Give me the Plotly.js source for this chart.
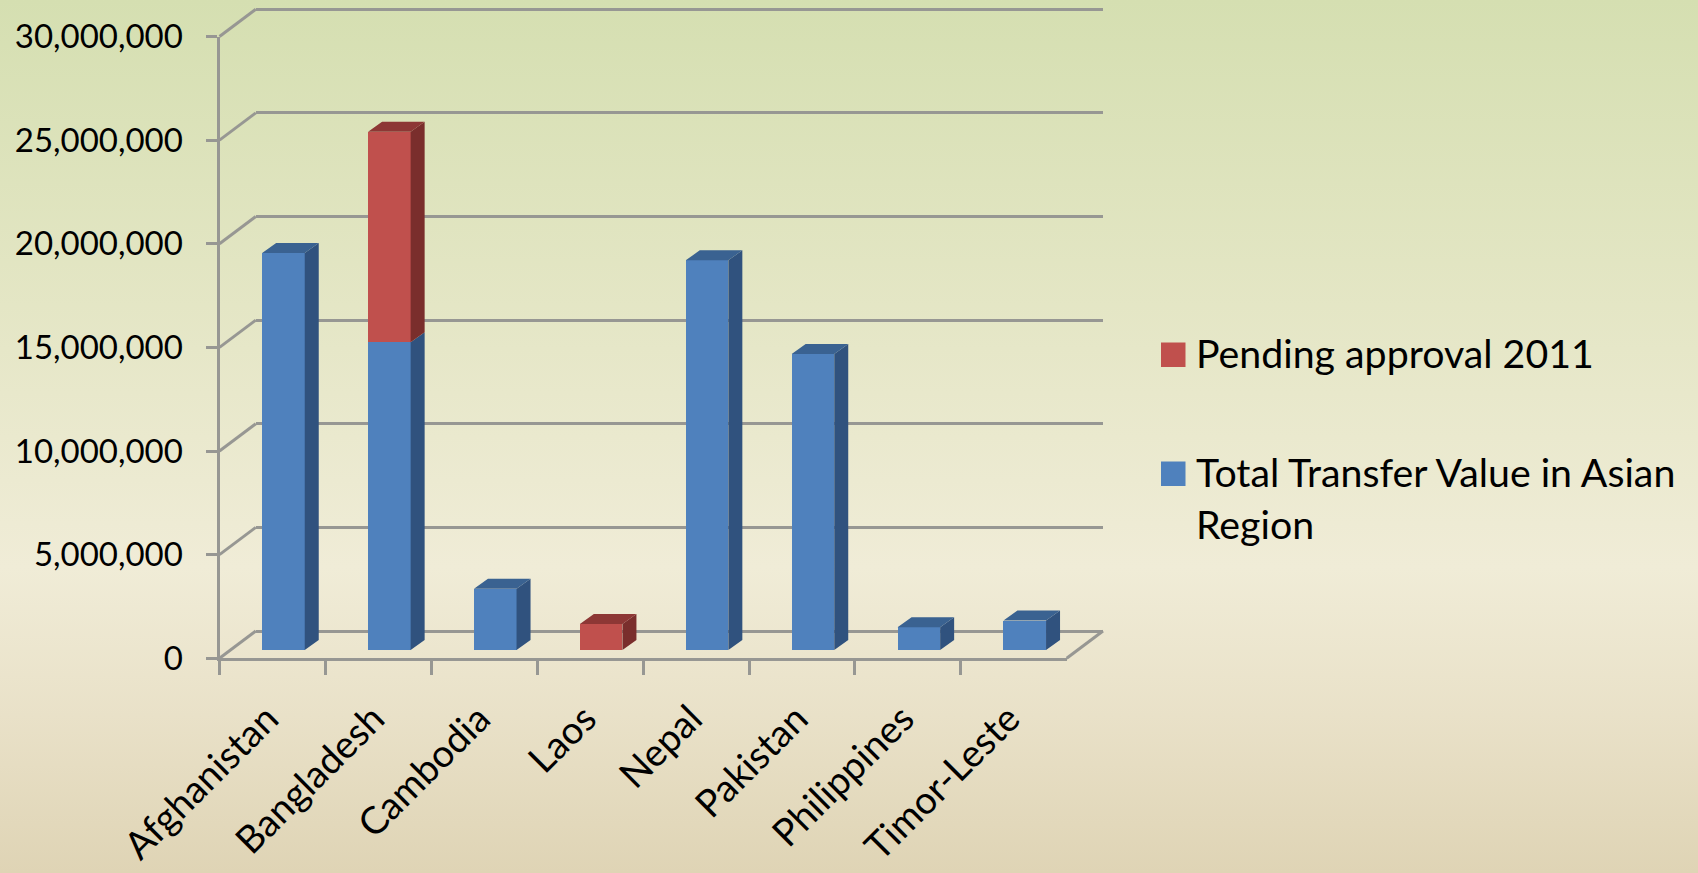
<!DOCTYPE html>
<html>
<head>
<meta charset="utf-8">
<script src="https://cdn.plot.ly/plotly-3.0.1.min.js"></script>
<style>
html,body{margin:0;padding:0;width:1698px;height:873px;overflow:hidden;
background:linear-gradient(180deg,#d5dfb1 0%,#e4e6c5 35%,#f0ecd7 65%,#e9e1c8 82%,#dfd4b5 100%);}
#chart{width:1698px;height:873px;}
</style>
</head>
<body>
<div id="chart"></div>
<script>
const categories = ["Afghanistan","Bangladesh","Cambodia","Laos","Nepal","Pakistan","Philippines","Timor-Leste"];
const totalTransfer = [19150000,14850000,2950000,0,18800000,14280000,1100000,1420000];
const pendingApproval = [0,10150000,0,1250000,0,0,0,0];
const totalName = "Total Transfer Value in Asian Region";
const pendingName = "Pending approval 2011";
const yTickVals = [0,5000000,10000000,15000000,20000000,25000000,30000000];
const yTickText = ["0","5,000,000","10,000,000","15,000,000","20,000,000","25,000,000","30,000,000"];

const W=1698,H=873,FONT="Lato, 'Open Sans', sans-serif",FS=33,FSX=38,FSL=39.3;
const GRID="#979793",LW=3;
const px=v=>v/W, py=v=>1-v/H;
// frame of the front axes
const L=219.5,R=1066.7,T=36.5,B=658.3;
const backDx=36.3,backDy=27.3, barDx=11,barDy=8.3;
const YMAX=30000000, barW=0.402;
const catPx=(R-L)/8, valPerPx=YMAX/(B-T);
const depthX=14/catPx, depthY=10*valPerPx;
// small headroom so that the top gridline of the back wall is kept
const HEAD=0.01;

const xs=categories.map((_,i)=>i);
function faces(seriesBase,seriesVal,onlyTopmost,other){
  const side={x:[],y:[]},top={x:[],y:[]};
  xs.forEach(i=>{
    const v=seriesVal[i]; if(!v) return;
    const b=seriesBase[i], t=b+v, xr=i+barW/2, xl=i-barW/2;
    side.x.push(xr,xr,xr+depthX,xr+depthX,null);
    side.y.push(b,t,t+depthY,b+depthY,null);
    if(!onlyTopmost||!other[i]){
      top.x.push(xl,xr,xr+depthX,xl+depthX,null);
      top.y.push(t,t,t+depthY,t+depthY,null);
    }
  });
  return {side,top};
}
const zeros=xs.map(()=>0);
const fb=faces(zeros,totalTransfer,true,pendingApproval);
const fr=faces(totalTransfer,pendingApproval,false,zeros);
const poly=(d,c)=>({type:'scatter',mode:'none',x:d.x,y:d.y,xaxis:'x3',yaxis:'y3',fill:'toself',fillcolor:c,hoverinfo:'skip',showlegend:false});

const traces=[
  {type:'scatter',mode:'none',x:[0],y:[0],xaxis:'x',yaxis:'y',hoverinfo:'skip',showlegend:false},
  {type:'scatter',mode:'none',x:categories,y:zeros,xaxis:'x2',yaxis:'y2',hoverinfo:'skip',showlegend:false},
  {type:'bar',name:totalName,x:xs,y:totalTransfer,width:barW,xaxis:'x3',yaxis:'y3',marker:{color:'#4f81bd',line:{width:0}}},
  {type:'bar',name:pendingName,x:xs,y:pendingApproval,width:barW,xaxis:'x3',yaxis:'y3',marker:{color:'#c0504d',line:{width:0}}},
  poly(fb.side,'#30527e'),poly(fb.top,'#3a6291'),
  poly(fr.side,'#7a2e2c'),poly(fr.top,'#8d3735')
];

const shapes=[];
yTickVals.forEach(v=>{
  const y=B-(B-T)*v/YMAX;
  shapes.push({type:'line',layer:'below',xref:'paper',yref:'paper',x0:px(L),y0:py(y),x1:px(L+backDx),y1:py(y-backDy),line:{color:GRID,width:LW}});
});
shapes.push({type:'line',layer:'below',xref:'paper',yref:'paper',x0:px(R),y0:py(B),x1:px(R+backDx),y1:py(B-backDy),line:{color:GRID,width:LW}});
const sw=(y0,y1,c)=>({type:'rect',xref:'paper',yref:'paper',x0:px(1161),x1:px(1185.5),y0:py(y0),y1:py(y1),fillcolor:c,line:{width:0}});
shapes.push(sw(342.5,367,'#c0504d'),sw(461.5,486,'#4f81bd'));
const lg=(t,y)=>({text:t,xref:'paper',yref:'paper',x:px(1194.5),y:py(y),xanchor:'left',yanchor:'middle',showarrow:false,font:{family:FONT,size:FSL,color:'#000'},borderpad:0});

const linear=(lo,hi)=>({type:'linear',range:[lo,hi],fixedrange:true});
const layout={
  width:W,height:H,margin:{l:0,r:0,t:0,b:0,pad:0},autosize:false,
  paper_bgcolor:'rgba(0,0,0,0)',plot_bgcolor:'rgba(0,0,0,0)',
  showlegend:false,barmode:'stack',hovermode:false,
  font:{family:FONT,size:FS,color:'#000'},
  xaxis:Object.assign(linear(-0.5,7.5),{domain:[px(L+backDx),px(R+backDx)],anchor:'y',visible:false}),
  yaxis:Object.assign(linear(0,YMAX*(1+HEAD)),{domain:[py(B-backDy),py(T-backDy-(B-T)*HEAD)],anchor:'x',showticklabels:false,ticks:'',
    showgrid:true,gridcolor:GRID,gridwidth:LW,tickmode:'array',tickvals:yTickVals,zeroline:true,zerolinecolor:GRID,zerolinewidth:LW,showline:false}),
  xaxis2:{type:'category',categoryorder:'array',categoryarray:categories,range:[-0.5,7.5],domain:[px(L),px(R)],anchor:'y2',
    showline:true,linecolor:GRID,linewidth:LW,ticks:'outside',ticklen:14,tickwidth:LW,tickcolor:GRID,tickson:'boundaries',
    tickangle:-45,showgrid:false,zeroline:false,fixedrange:true,ticklabelstandoff:20,ticklabelshift:-5,
    tickfont:{family:FONT,size:FSX,color:'#000'}},
  yaxis2:Object.assign(linear(0,YMAX),{domain:[py(B),py(T)],anchor:'x2',showline:true,linecolor:GRID,linewidth:LW,
    ticks:'outside',ticklen:11,tickwidth:LW,tickcolor:GRID,tickmode:'array',tickvals:yTickVals,ticktext:yTickText,
    showgrid:false,zeroline:false,ticklabelstandoff:16,tickfont:{family:FONT,size:FS,color:'#000'}}),
  xaxis3:Object.assign(linear(-0.5,7.5),{domain:[px(L+barDx),px(R+barDx)],anchor:'y3',visible:false}),
  yaxis3:Object.assign(linear(0,YMAX),{domain:[py(B-barDy),py(T-barDy)],anchor:'x3',visible:false}),
  shapes:shapes,
  annotations:[lg(pendingName,352),lg("Total Transfer Value in Asian",472),lg("Region",523)]
};
Plotly.newPlot('chart',traces,layout,{displayModeBar:false,staticPlot:true});
</script>
</body>
</html>
